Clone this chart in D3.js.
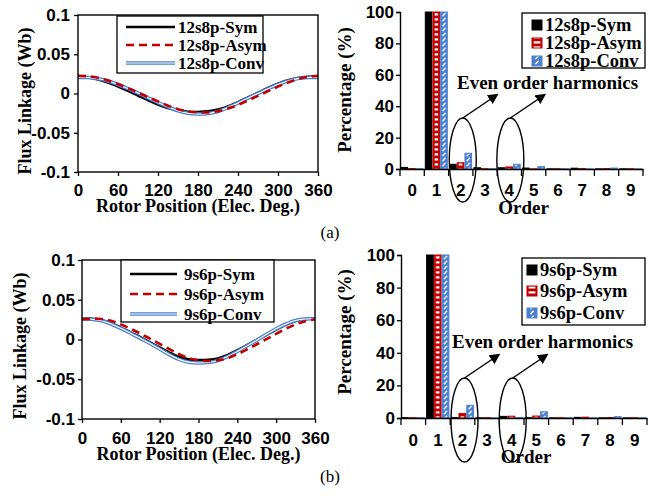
<!DOCTYPE html>
<html>
<head>
<meta charset="utf-8">
<script src="https://cdn.jsdelivr.net/npm/d3@7"></script>
<style>
  body { margin: 0; background: #fff; }
  svg { display: block; font-family: "Liberation Serif", "Times New Roman", serif; }
  .bold { font-weight: bold; }
</style>
</head>
<body>
<div class="figure"></div>
<script>
"use strict"

// flux linkage, every 15 elec. deg
const angles = [0, 15, 30, 45, 60, 75, 90, 105, 120, 135, 150, 165, 180,
    195, 210, 225, 240, 255, 270, 285, 300, 315, 330, 345, 360];

const flux12Sym = [0.0215, 0.0205, 0.0180, 0.0140, 0.0090, 0.0035, -0.0025, -0.0085, -0.0140,
    -0.0185, -0.0215, -0.0232, -0.0235, -0.0228, -0.0205, -0.0165, -0.0110, -0.0050,
    0.0010, 0.0070, 0.0125, 0.0168, 0.0198, 0.0213, 0.0215];
const flux12Asym = [0.0225, 0.0220, 0.0200, 0.0165, 0.0120, 0.0068, 0.0012, -0.0045, -0.0100,
    -0.0155, -0.0200, -0.0228, -0.0240, -0.0240, -0.0225, -0.0192, -0.0145, -0.0088,
    -0.0030, 0.0030, 0.0088, 0.0140, 0.0185, 0.0212, 0.0225];
const flux12Conv = [0.0205, 0.0203, 0.0188, 0.0160, 0.0115, 0.0062, 0.0005, -0.0055, -0.0115,
    -0.0170, -0.0220, -0.0252, -0.0262, -0.0255, -0.0228, -0.0180, -0.0120, -0.0060,
    0.0000, 0.0060, 0.0115, 0.0160, 0.0190, 0.0203, 0.0205];

const flux9Sym = [0.0265, 0.0262, 0.0245, 0.0205, 0.0150, 0.0090, 0.0030, -0.0035, -0.0100,
    -0.0165, -0.0220, -0.0250, -0.0258, -0.0255, -0.0238, -0.0195, -0.0135, -0.0070,
    -0.0005, 0.0060, 0.0125, 0.0185, 0.0232, 0.0258, 0.0265];
const flux9Asym = [0.0255, 0.0262, 0.0258, 0.0235, 0.0190, 0.0135, 0.0075, 0.0010, -0.0055,
    -0.0120, -0.0185, -0.0235, -0.0262, -0.0270, -0.0262, -0.0235, -0.0185, -0.0125,
    -0.0060, 0.0005, 0.0070, 0.0135, 0.0190, 0.0230, 0.0255];
const flux9Conv = [0.0260, 0.0255, 0.0235, 0.0195, 0.0140, 0.0080, 0.0015, -0.0050, -0.0120,
    -0.0190, -0.0250, -0.0285, -0.0295, -0.0290, -0.0265, -0.0215, -0.0150, -0.0080,
    -0.0010, 0.0065, 0.0135, 0.0195, 0.0240, 0.0258, 0.0260];

// harmonic content (%)
const orders = ["0", "1", "2", "3", "4", "5", "6", "7", "8", "9"];
const harm12Sym = [1.0, 100, 3.0, 0.8, 0.8, 0.6, 0.1, 0.5, 0.1, 0.1];
const harm12Asym = [0.3, 100, 4.0, 0.2, 1.3, 0.1, 0.2, 0.3, 0.3, 0.2];
const harm12Conv = [0.2, 100, 10.0, 0.2, 3.0, 1.5, 0.2, 0.1, 0.6, 0.1];
const harm9Sym = [0.2, 100, 0.3, 0.1, 1.0, 0.2, 0.1, 0.4, 0.1, 0.1];
const harm9Asym = [0.2, 100, 2.8, 0.2, 1.1, 1.2, 0.2, 0.5, 0.3, 0.2];
const harm9Conv = [0.2, 100, 7.8, 0.1, 0.3, 3.8, 0.2, 0.1, 0.8, 0.1];

const fluxXTicks = [0, 60, 120, 180, 240, 300, 360];
const fluxYTicks = [-0.1, -0.05, 0, 0.05, 0.1];
const barYTicks = [0, 20, 40, 60, 80, 100];

const red = "#c00000",
    blue = "#4a7fd0";

const svg = d3.select("div.figure").append("svg")
    .attr("width", 648)
    .attr("height", 496);

const defs = svg.append("defs");

defs.append("marker")
    .attr("id", "arrow")
    .attr("viewBox", "0 0 10 10")
    .attr("refX", 8)
    .attr("refY", 5)
    .attr("markerWidth", 7)
    .attr("markerHeight", 7)
    .attr("markerUnits", "strokeWidth")
    .attr("orient", "auto")
    .append("path")
    .attr("d", "M0,0 L10,5 L0,10 z")
    .attr("fill", "#000");

// stripes for the red (horizontal) and blue (diagonal) bars
function makePattern(id, kind, x0, tileW, barW) {
    const p = defs.append("pattern")
        .attr("id", id)
        .attr("patternUnits", "userSpaceOnUse")
        .attr("x", x0)
        .attr("y", 0)
        .attr("width", tileW)
        .attr("height", 5);
    if (kind === "h") {
        p.append("rect").attr("width", tileW).attr("height", 5).attr("fill", red);
        p.append("rect")
            .attr("x", 1.6).attr("y", 1.3)
            .attr("width", Math.max(barW - 3.2, 1.5)).attr("height", 2.2)
            .attr("fill", "#fff");
    } else {
        p.append("rect").attr("width", tileW).attr("height", 5).attr("fill", blue);
        p.append("line")
            .attr("x1", barW / 2 - 1.6).attr("y1", 4.2)
            .attr("x2", barW / 2 + 1.6).attr("y2", 0.8)
            .attr("stroke", "#fff")
            .attr("stroke-width", 1.3);
    }
}

function fmtFlux(d) {
    return d === 0 ? "0" : String(d);
}

function drawFlux(o) {
    const w = o.right - o.left,
        h = o.bottom - o.top;
    const g = svg.append("g").attr("transform", "translate(" + o.left + "," + o.top + ")");

    const x = d3.scaleLinear().domain([0, 360]).range([0, w]);
    const y = d3.scaleLinear().domain([-0.1, 0.1]).range([h, 0]);

    g.append("g")
        .attr("class", "bold")
        .attr("transform", "translate(0," + h + ")")
        .call(d3.axisBottom(x).tickValues(fluxXTicks).tickSize(4))
        .call(a => a.select(".domain").remove())
        .call(a => a.selectAll("line").attr("stroke-width", 1.3))
        .call(a => a.selectAll("text")
            .attr("y", o.tickBase).attr("dy", null)
            .attr("font-size", 17).attr("fill", "#000"));

    g.append("g")
        .attr("class", "bold")
        .call(d3.axisLeft(y).tickValues(fluxYTicks).tickSize(4).tickPadding(o.yPad).tickFormat(fmtFlux))
        .call(a => a.select(".domain").remove())
        .call(a => a.selectAll("line").attr("stroke-width", 1.3))
        .call(a => a.selectAll("text").attr("font-size", 17).attr("fill", "#000"));

    const line = d3.line()
        .x((d, i) => x(angles[i]))
        .y(d => y(d))
        .curve(d3.curveCatmullRom);

    const sym = o.series[0], asym = o.series[1], conv = o.series[2];

    g.append("path").datum(sym.values)
        .attr("fill", "none").attr("stroke", "#000").attr("stroke-width", 2.6)
        .attr("d", line);
    g.append("path").datum(conv.values)
        .attr("fill", "none").attr("stroke", blue).attr("stroke-width", 3.6)
        .attr("d", line);
    g.append("path").datum(conv.values)
        .attr("fill", "none").attr("stroke", "#fff").attr("stroke-width", 1.1)
        .attr("d", line);
    g.append("path").datum(asym.values)
        .attr("fill", "none").attr("stroke", red).attr("stroke-width", 2.6)
        .attr("stroke-dasharray", "8,5")
        .attr("d", line);

    g.append("rect")
        .attr("width", w).attr("height", h)
        .attr("fill", "none").attr("stroke", "#000").attr("stroke-width", 1.4);

    // legend
    const L = o.legend;
    const lg = svg.append("g");
    lg.append("rect")
        .attr("x", L.x0).attr("y", L.y0)
        .attr("width", L.x1 - L.x0).attr("height", L.y1 - L.y0)
        .attr("fill", "#fff").attr("stroke", "#000").attr("stroke-width", 1.3);
    o.series.forEach((s, i) => {
        const yy = L.rows[i];
        if (i === 2) {
            lg.append("line").attr("x1", L.lx0).attr("x2", L.lx1).attr("y1", yy).attr("y2", yy)
                .attr("stroke", blue).attr("stroke-width", 3.6);
            lg.append("line").attr("x1", L.lx0).attr("x2", L.lx1).attr("y1", yy).attr("y2", yy)
                .attr("stroke", "#fff").attr("stroke-width", 1.1);
        } else {
            lg.append("line").attr("x1", L.lx0).attr("x2", L.lx1).attr("y1", yy).attr("y2", yy)
                .attr("stroke", i === 0 ? "#000" : red).attr("stroke-width", 2.6)
                .attr("stroke-dasharray", i === 1 ? "8,5" : null);
        }
        lg.append("text")
            .attr("class", "bold")
            .attr("x", L.tx).attr("y", yy + 6)
            .attr("font-size", 17)
            .text(s.name);
    });

    svg.append("text")
        .attr("class", "bold")
        .attr("x", (o.left + o.right) / 2).attr("y", o.bottom + o.titleBase)
        .attr("text-anchor", "middle").attr("font-size", 18)
        .text("Rotor Position (Elec. Deg.)");
    svg.append("text")
        .attr("class", "bold")
        .attr("transform", "translate(" + o.yTitleX + "," + o.yTitleY + ") rotate(-90)")
        .attr("text-anchor", "middle").attr("font-size", 18)
        .text("Flux Linkage (Wb)");
}

function drawBars(o) {
    const w = o.right - o.left,
        h = o.bottom - o.top;
    const g = svg.append("g").attr("transform", "translate(" + o.left + "," + o.top + ")");

    const x0 = d3.scaleBand().domain(orders).range([0, w]).paddingInner(0).paddingOuter(0);
    const x1 = d3.scaleBand().domain(["Sym", "Asym", "Conv"])
        .range([1, x0.step() - 1.3]).paddingInner(0.14).paddingOuter(0);
    const y = d3.scaleLinear().domain([0, 100]).range([h, 0]);

    const bw = x1.bandwidth();
    makePattern(o.id + "-h", "h", x1("Asym"), x0.step(), bw);
    makePattern(o.id + "-d", "d", x1("Conv"), x0.step(), bw);

    const fills = ["#000", "url(#" + o.id + "-h)", "url(#" + o.id + "-d)"];
    const strokes = ["#000", red, blue];
    const keys = ["Sym", "Asym", "Conv"];

    o.series.forEach((s, si) => {
        g.append("g").selectAll("rect")
            .data(s.values)
            .join("rect")
            .attr("x", (d, i) => x0(orders[i]) + x1(keys[si]))
            .attr("y", d => y(d))
            .attr("width", bw)
            .attr("height", d => Math.max(h - y(d), 0.6))
            .attr("fill", fills[si])
            .attr("stroke", strokes[si])
            .attr("stroke-width", 1);
    });

    g.append("g")
        .attr("class", "bold")
        .call(d3.axisLeft(y).tickValues(barYTicks).tickSize(4).tickPadding(2))
        .call(a => a.select(".domain").attr("stroke-width", 1.4))
        .call(a => a.selectAll(".tick line").attr("stroke-width", 1.3))
        .call(a => a.selectAll("text").attr("font-size", 17).attr("fill", "#000"));

    const xa = g.append("g")
        .attr("class", "bold")
        .attr("transform", "translate(0," + h + ")")
        .call(d3.axisBottom(x0).tickSize(0))
        .call(a => a.select(".domain").attr("stroke-width", 1.4))
        .call(a => a.selectAll("text")
            .attr("y", o.tickBase).attr("dy", null)
            .attr("font-size", 17).attr("fill", "#000"));

    xa.selectAll("line.bound")
        .data(orders.concat(["end"]))
        .join("line")
        .attr("class", "bound")
        .attr("x1", (d, i) => i * x0.step())
        .attr("x2", (d, i) => i * x0.step())
        .attr("y1", 0).attr("y2", 7)
        .attr("stroke", "#000").attr("stroke-width", 1.3);

    // annotation: ellipses round the even orders
    ["2", "4"].forEach((k, i) => {
        const cx = x0(k) + x0.bandwidth() / 2 + o.ellDx[i];
        const cy = h + o.ellDy;
        g.append("ellipse")
            .attr("cx", cx).attr("cy", cy)
            .attr("rx", 13.5).attr("ry", 42)
            .attr("fill", "none").attr("stroke", "#000").attr("stroke-width", 1.4);
        g.append("line")
            .attr("x1", cx).attr("y1", cy - 42)
            .attr("x2", cx + 34).attr("y2", cy - 65)
            .attr("stroke", "#000").attr("stroke-width", 1.5)
            .attr("marker-end", "url(#arrow)");
    });

    svg.append("text")
        .attr("class", "bold")
        .attr("x", o.noteX).attr("y", o.noteY)
        .attr("font-size", 19)
        .text("Even order harmonics");

    // legend
    const L = o.legend;
    const lg = svg.append("g");
    lg.append("rect")
        .attr("x", L.x0).attr("y", L.y0)
        .attr("width", L.x1 - L.x0).attr("height", L.y1 - L.y0)
        .attr("fill", "#fff").attr("stroke", "#000").attr("stroke-width", 1.3);
    makePattern(o.id + "-lh", "h", L.sx, 10, 10);
    makePattern(o.id + "-ld", "d", L.sx, 10, 10);
    const lfills = ["#000", "url(#" + o.id + "-lh)", "url(#" + o.id + "-ld)"];
    o.series.forEach((s, i) => {
        const yy = L.rows[i];
        lg.append("rect")
            .attr("x", L.sx).attr("y", yy - 5)
            .attr("width", 10).attr("height", 10)
            .attr("fill", lfills[i]).attr("stroke", strokes[i]).attr("stroke-width", 1);
        lg.append("text")
            .attr("class", "bold")
            .attr("x", L.tx).attr("y", yy + 6)
            .attr("font-size", 18.5)
            .text(s.name);
    });

    svg.append("text")
        .attr("class", "bold")
        .attr("x", (o.left + o.right) / 2 + 2).attr("y", o.bottom + o.titleBase)
        .attr("text-anchor", "middle").attr("font-size", 19)
        .text("Order");
    svg.append("text")
        .attr("class", "bold")
        .attr("transform", "translate(" + o.yTitleX + "," + o.yTitleY + ") rotate(-90)")
        .attr("text-anchor", "middle").attr("font-size", 19)
        .text("Percentage (%)");
}

drawFlux({
    left: 78, right: 318, top: 15, bottom: 172,
    yPad: 4, tickBase: 24, titleBase: 40, yTitleX: 31, yTitleY: 101,
    series: [
        { name: "12s8p-Sym", values: flux12Sym },
        { name: "12s8p-Asym", values: flux12Asym },
        { name: "12s8p-Conv", values: flux12Conv }
    ],
    legend: { x0: 117, y0: 16, x1: 263, y1: 73, rows: [27, 45, 63], lx0: 126, lx1: 175, tx: 178 }
});

drawFlux({
    left: 82, right: 315, top: 260, bottom: 419,
    yPad: 3, tickBase: 25, titleBase: 41, yTitleX: 26, yTitleY: 346,
    series: [
        { name: "9s6p-Sym", values: flux9Sym },
        { name: "9s6p-Asym", values: flux9Asym },
        { name: "9s6p-Conv", values: flux9Conv }
    ],
    legend: { x0: 121, y0: 260, x1: 274, y1: 322, rows: [274, 294, 314], lx0: 130, lx1: 177, tx: 184 }
});

drawBars({
    id: "pa", left: 400, right: 643, top: 12, bottom: 169,
    tickBase: 27, titleBase: 45, yTitleX: 351, yTitleY: 90,
    ellDx: [2, 1], ellDy: -9, noteX: 457, noteY: 89,
    series: [
        { name: "12s8p-Sym", values: harm12Sym },
        { name: "12s8p-Asym", values: harm12Asym },
        { name: "12s8p-Conv", values: harm12Conv }
    ],
    legend: { x0: 522, y0: 13, x1: 645, y1: 68, rows: [25, 43, 61], sx: 532, tx: 545 }
});

drawBars({
    id: "pb", left: 401, right: 647, top: 255, bottom: 418,
    tickBase: 28, titleBase: 45, yTitleX: 351, yTitleY: 332,
    ellDx: [2, 1], ellDy: 2, noteX: 452, noteY: 348,
    series: [
        { name: "9s6p-Sym", values: harm9Sym },
        { name: "9s6p-Asym", values: harm9Asym },
        { name: "9s6p-Conv", values: harm9Conv }
    ],
    legend: { x0: 522, y0: 258, x1: 645, y1: 325, rows: [270, 291, 313], sx: 527, tx: 540 }
});

svg.append("text")
    .attr("x", 330).attr("y", 238)
    .attr("text-anchor", "middle").attr("font-size", 17)
    .text("(a)");
svg.append("text")
    .attr("x", 330).attr("y", 482)
    .attr("text-anchor", "middle").attr("font-size", 17)
    .text("(b)");
</script>
</body>
</html>
